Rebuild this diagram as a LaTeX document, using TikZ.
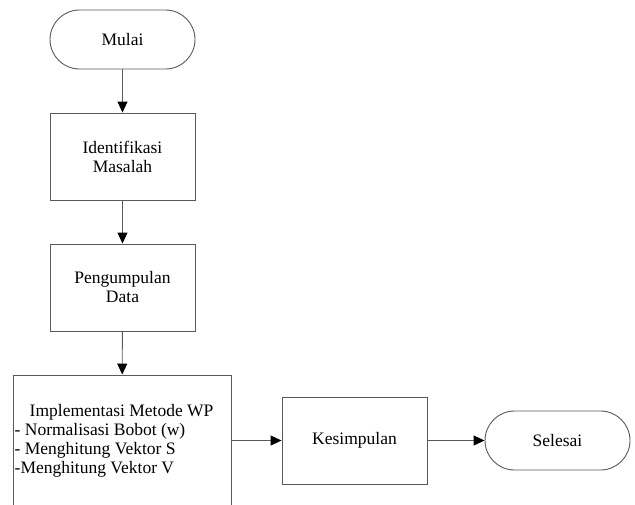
\documentclass[tikz,border=0pt]{standalone}
\usepackage{fontspec}
\setmainfont{Liberation Serif}
\usetikzlibrary{arrows.meta}
\definecolor{linegray}{HTML}{595959}
\tikzset{
  every node/.style={font=\fontsize{17.5}{19}\selectfont, text=black},
  procbox/.style={draw=linegray, line width=0.9pt, minimum width=145pt, minimum height=87pt, inner sep=0pt, align=center},
  termbox/.style={draw=linegray, line width=0.9pt, minimum width=145pt, minimum height=59pt, inner sep=0pt, rounded corners=29.5pt, align=center},
  flow/.style={draw=linegray, line width=0.9pt, -{Triangle[length=11pt,width=10pt,fill=black,color=black]}}
}
\begin{document}
\begin{tikzpicture}[x=1pt,y=-1pt]
\useasboundingbox (0,0) rectangle (635,504);
\clip (0,0) rectangle (635,504);
\node[termbox] (mulai) at (122.5,39.5) {Mulai};
\node[procbox] (ident) at (122.5,156.5) {Identifikasi\\Masalah};
\node[procbox] (pengum) at (122.5,287.5) {Pengumpulan\\Data};
\node[procbox, minimum width=218pt, minimum height=131pt] (impl) at (122,440.5) {};
\node[anchor=west, align=left, inner sep=0pt] (impltext) at (14.5,440.5) {\hspace*{15pt}Implementasi Metode WP\\- Normalisasi Bobot (w)\\- Menghitung Vektor S\\-Menghitung Vektor V};
\node[procbox] (kesim) at (354.5,440.5) {Kesimpulan};
\node[termbox] (selesai) at (557.5,440.5) {Selesai};
\draw[flow] (mulai) -- (ident);
\draw[flow] (ident) -- (pengum);
\draw[flow] (pengum) -- (impl);
\draw[flow] (impl.east) -- (kesim.west);
\draw[flow] (kesim) -- (selesai);
\end{tikzpicture}
\end{document}
